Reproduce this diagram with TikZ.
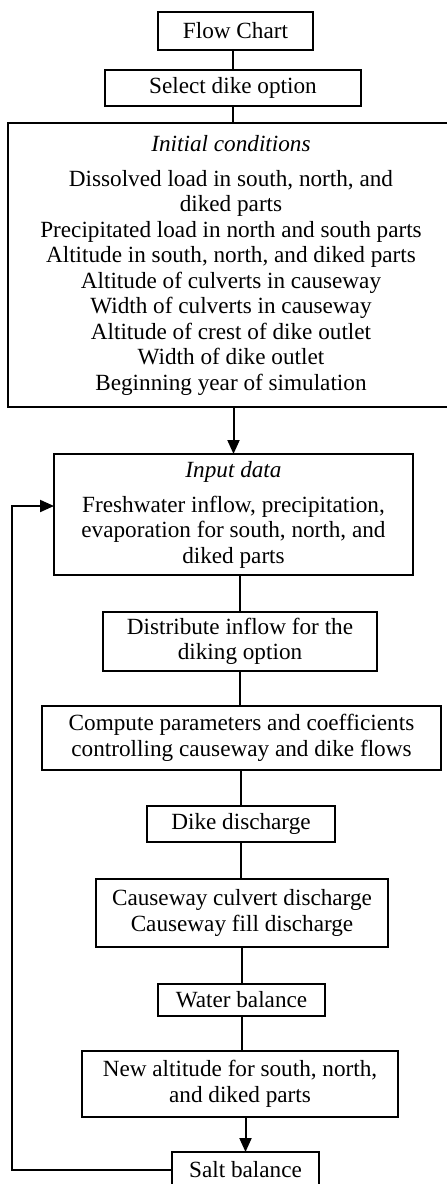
\documentclass[tikz,border=0pt]{standalone}
\usepackage{fontspec}
\setmainfont{Liberation Serif}
\usetikzlibrary{arrows.meta}

\begin{document}
\begin{tikzpicture}[x=0.5pt,y=-0.5pt,
  >={Triangle[length=7pt,width=6pt]},line width=1pt,
  box/.style={draw,rectangle,inner sep=0pt,outer sep=0pt,align=center,font=\fontsize{11.6}{12.75}\selectfont}]
      \tikzstyle{every node}=[text=black]

  \useasboundingbox (0,0) rectangle (446,1184);

  \node [box,minimum width=77.5pt,minimum height=19pt] (flow) at (235.5,31) {Flow Chart};
  \node [box,minimum width=128pt,minimum height=18pt] (sel) at (233,88) {Select dike option};
  \node [box,minimum width=223pt,minimum height=142pt] (init) at (231,265)
    {\textit{Initial conditions}\\[4.75pt]
     Dissolved load in south, north, and\\
     diked parts\\
     Precipitated load in north and south parts\\
     Altitude in south, north, and diked parts\\
     Altitude of culverts in causeway\\
     Width of culverts in causeway\\
     Altitude of crest of dike outlet\\
     Width of dike outlet\\
     Beginning year of simulation};
  \node [box,minimum width=179.5pt,minimum height=60.5pt] (inp) at (233.5,514.5)
    {\textit{Input data}\\[4.75pt]
     Freshwater inflow, precipitation,\\
     evaporation for south, north, and\\
     diked parts};
  \node [box,minimum width=137pt,minimum height=29.5pt] (distr) at (240,641.5)
    {Distribute inflow for the\\ diking option};
  \node [box,minimum width=199.5pt,minimum height=32pt] (comp) at (241.5,738)
    {Compute parameters and coefficients\\ controlling causeway and dike flows};
  \node [box,minimum width=94pt,minimum height=18pt] (dike) at (241,824) {Dike discharge};
  \node [box,minimum width=146pt,minimum height=34pt] (cause) at (242,913)
    {Causeway culvert discharge\\ Causeway fill discharge};
  \node [box,minimum width=83.5pt,minimum height=16pt] (water) at (241.5,1000) {Water balance};
  \node [box,minimum width=158pt,minimum height=33pt] (newalt) at (240,1084)
    {New altitude for south, north,\\ and diked parts};
  \node [box,minimum width=73.5pt,minimum height=18pt] (salt) at (245.5,1170) {Salt balance};

  \coordinate (back) at (12,1173);

  \draw (sel.north) -- (sel.north |- flow.south);
  \draw (sel.south) -- (sel.south |- init.north);
  \draw[->] (inp.north |- init.south) -- (inp.north);
  \draw (distr.north |- inp.south) -- (distr.north);
  \draw (distr.south) -- (distr.south |- comp.north);
  \draw (dike.north |- comp.south) -- (dike.north);
  \draw (dike.south) -- (dike.south |- cause.north);
  \draw (water.north |- cause.south) -- (water.north);
  \draw (water.south) -- (water.south |- newalt.north);
  \draw[->] (salt.north |- newalt.south) -- (salt.north);
  \draw[->] (salt.west) -- (salt.west -| back) |- ([yshift=4.25pt]inp.west);

\end{tikzpicture}
\end{document}
